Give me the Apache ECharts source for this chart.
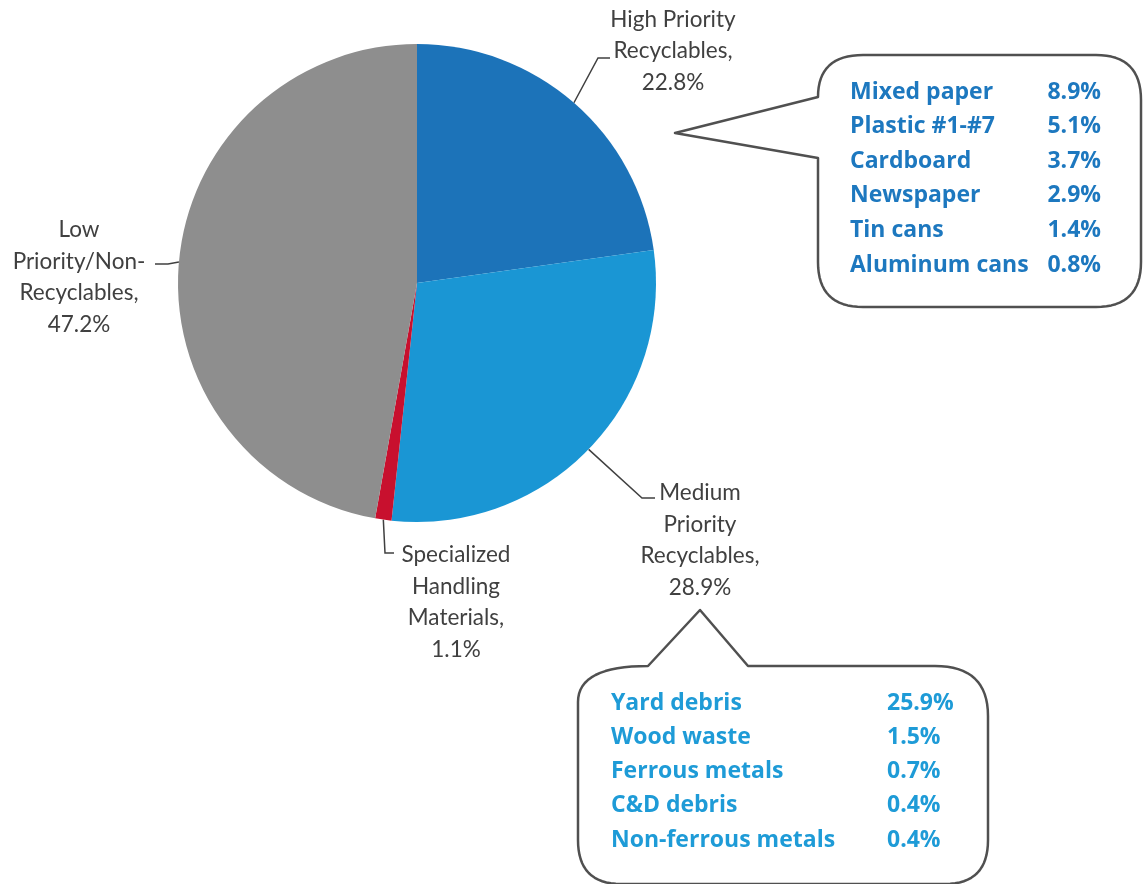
<!DOCTYPE html>
<html>
<head>
<meta charset="utf-8">
<script src="https://cdn.jsdelivr.net/npm/echarts@6/dist/echarts.min.js"></script>
<style>
  html, body { margin: 0; padding: 0; background: #ffffff; }
  #chart { width: 1144px; height: 884px; }
</style>
</head>
<body>
<div id="chart"></div>
<script>
// Waste composition by recycling priority (percent of total)
const categories = [
  'High Priority\nRecyclables',
  'Medium\nPriority\nRecyclables',
  'Specialized\nHandling\nMaterials',
  'Low\nPriority/Non-\nRecyclables'
];
const shares = [22.8, 28.9, 1.1, 47.2];

// Breakdown of the high priority recyclables
const highItems = ['Mixed paper', 'Plastic #1-#7', 'Cardboard', 'Newspaper', 'Tin cans', 'Aluminum cans'];
const highShares = [8.9, 5.1, 3.7, 2.9, 1.4, 0.8];

// Breakdown of the medium priority recyclables
const mediumItems = ['Yard debris', 'Wood waste', 'Ferrous metals', 'C&D debris', 'Non-ferrous metals'];
const mediumShares = [25.9, 1.5, 0.7, 0.4, 0.4];

const sliceColors = ['#1c73b9', '#1a96d4', '#c8102e', '#8e8e8e'];

// pie geometry
const CX = 417, CY = 283, R = 239;
const total = shares.reduce((a, b) => a + b, 0);

// point on the rim at the middle of slice i (pie starts at 12 o'clock, clockwise)
function rimPoint(i) {
  const before = shares.slice(0, i).reduce((a, b) => a + b, 0);
  const ang = (before + shares[i] / 2) / total * 2 * Math.PI;
  return [CX + R * Math.sin(ang), CY - R * Math.cos(ang)];
}

// where each slice label sits and how its leader line bends
const labelPlace = [
  { x: 673, y: 51,  bend: [598, 58],  end: [610, 58] },
  { x: 700, y: 540, bend: [642, 498], end: [655, 498] },
  { x: 456, y: 602, bend: [385, 553], end: [394, 553] },
  { x: 79,  y: 277, bend: [168, 264], end: [155, 264] }
];

const fmt = v => v.toFixed(1) + '%';

// Outline builder: straight points ['L', x, y] and rounded corners ['Q', cx, cy, x, y]
function outline(start, segs) {
  const pts = [start.slice()];
  let cur = start.slice();
  segs.forEach(s => {
    if (s[0] === 'L') {
      cur = [s[1], s[2]];
      pts.push(cur);
    } else {
      const c = [s[1], s[2]], e = [s[3], s[4]];
      for (let k = 1; k <= 16; k++) {
        const t = k / 16, u = 1 - t;
        pts.push([u * u * cur[0] + 2 * u * t * c[0] + t * t * e[0],
                  u * u * cur[1] + 2 * u * t * c[1] + t * t * e[1]]);
      }
      cur = e;
    }
  });
  return pts;
}

// speech-bubble outlines
const upperBubble = outline([863, 55], [
  ['L', 1096, 55], ['Q', 1141, 55, 1141, 100], ['L', 1141, 262], ['Q', 1141, 307, 1096, 307],
  ['L', 863, 307], ['Q', 818, 307, 818, 262], ['L', 818, 158], ['L', 675, 133], ['L', 818, 97],
  ['Q', 818, 55, 863, 55]
]);
const lowerBubble = outline([648, 666], [
  ['L', 700, 610], ['L', 748, 666], ['L', 935, 666], ['Q', 988, 666, 988, 716], ['L', 988, 840],
  ['Q', 988, 884, 945, 884], ['L', 621, 884], ['Q', 578, 884, 578, 840], ['L', 578, 702],
  ['Q', 578, 666, 648, 666]
]);

const graphics = [
  { type: 'polygon', shape: { points: upperBubble },
    style: { fill: '#ffffff', stroke: '#505050', lineWidth: 2.5, lineJoin: 'round' }, z: 10 },
  { type: 'polygon', shape: { points: lowerBubble },
    style: { fill: '#ffffff', stroke: '#505050', lineWidth: 2.5, lineJoin: 'round' }, z: 10 }
];

const calloutFont = 'bold 23px "Open Sans"';
highItems.forEach((name, i) => {
  const y = 92 + i * 34.6;
  graphics.push({ type: 'text', z: 11, style: {
    text: name, x: 850, y: y, font: calloutFont, fill: '#1d78bf',
    textAlign: 'left', textVerticalAlign: 'middle' } });
  graphics.push({ type: 'text', z: 11, style: {
    text: fmt(highShares[i]), x: 1101, y: y, font: calloutFont, fill: '#1d78bf',
    textAlign: 'right', textVerticalAlign: 'middle' } });
});
mediumItems.forEach((name, i) => {
  const y = 703 + i * 34.3;
  graphics.push({ type: 'text', z: 11, style: {
    text: name, x: 611, y: y, font: calloutFont, fill: '#1e9bd7',
    textAlign: 'left', textVerticalAlign: 'middle' } });
  graphics.push({ type: 'text', z: 11, style: {
    text: fmt(mediumShares[i]), x: 887, y: y, font: calloutFont, fill: '#1e9bd7',
    textAlign: 'left', textVerticalAlign: 'middle' } });
});

const chart = echarts.init(document.getElementById('chart'), null, { renderer: 'canvas' });
chart.setOption({
  backgroundColor: '#ffffff',
  animation: false,
  series: [{
    type: 'pie',
    center: [CX, CY],
    radius: R,
    startAngle: 90,
    clockwise: true,
    avoidLabelOverlap: false,
    data: categories.map((name, i) => ({
      name: name, value: shares[i], itemStyle: { color: sliceColors[i] }
    })),
    label: {
      show: true,
      position: 'outside',
      formatter: p => p.name + ',\n' + fmt(p.value),
      fontFamily: 'Lato',
      fontSize: 22.5,
      lineHeight: 31.5,
      color: '#404040',
      align: 'center'
    },
    labelLine: {
      show: true,
      lineStyle: { color: '#404040', width: 1.5 }
    },
    labelLayout: params => {
      const p = labelPlace[params.dataIndex];
      return {
        x: p.x, y: p.y, align: 'center', verticalAlign: 'middle',
        labelLinePoints: [rimPoint(params.dataIndex), p.bend, p.end]
      };
    },
    emphasis: { disabled: true }
  }],
  graphic: graphics
});
</script>
</body>
</html>
